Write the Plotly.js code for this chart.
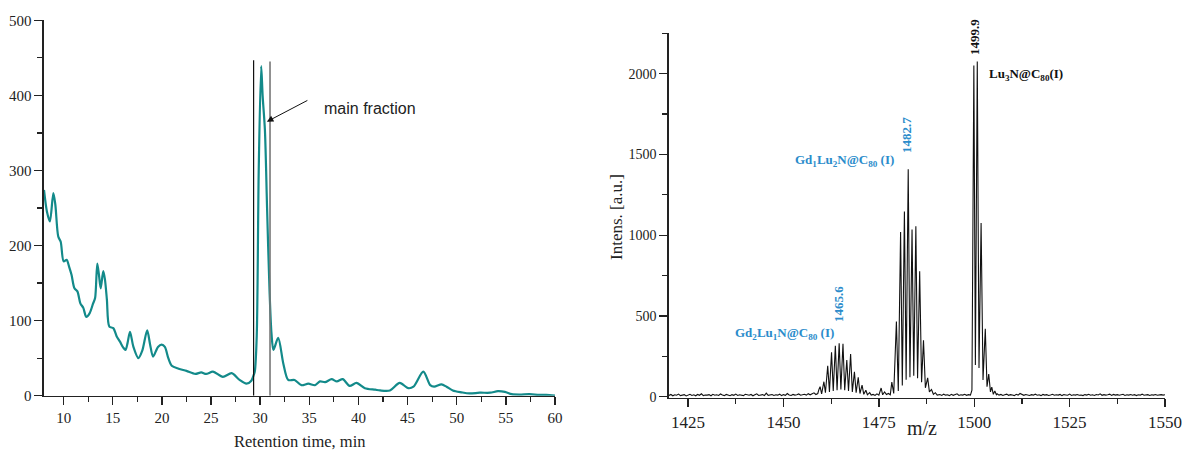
<!DOCTYPE html>
<html><head><meta charset="utf-8">
<script src="https://cdn.plot.ly/plotly-3.0.1.min.js"></script>
<style>html,body{margin:0;padding:0;background:#fff}#chart{width:1183px;height:452px}</style>
</head><body><div id="chart"></div>
<script>
// ---- Chromatogram (left) ----
const retTime = [8.0,8.3,8.6,8.95,9.15,9.45,9.7,10.0,10.3,10.55,10.8,11.1,11.4,11.7,12.0,12.3,12.65,13.0,13.2,13.42,13.6,13.77,14.03,14.2,14.4,14.65,15.05,15.4,15.73,16.07,16.3,16.5,16.75,17.1,17.6,18.0,18.5,18.8,19.1,19.6,19.97,20.3,20.65,21.0,21.7,22.5,23.4,24.0,24.5,25.2,26.2,27.1,27.9,28.6,29.1,29.35,29.45,29.65,29.85,30.1,30.25,30.48,30.7,30.95,31.15,31.35,31.83,32.35,32.85,33.5,34.2,34.9,35.57,36.08,36.6,37.27,37.8,38.4,39.1,39.8,40.65,41.7,42.2,43.2,44.2,45.06,45.6,46.6,47.3,47.7,48.45,48.96,49.6,50.5,51.3,52.35,53.4,54.2,54.9,55.6,56.4,57.4,58.4,59.1,60.0];
const retSignal = [274,245,232,270,255,212,205,179,181,172,161,143,139,123,117,105,110,123,130,176,160,143,166,155,128,92,90,79,72,64,61,70,85,65,50,60,87,68,52,65,68,65,50,40,36,33,29,31,29,32,25,30,21,16,20,28,32,80,300,439,399,354,250,140,83,61,77,43,21,21,14,16,14,19,18,22,19,22,13,17,10,8,7,7,17,10,12,32,14,12,15,12,7,4.5,3,4,4,6,5,2,1.5,2,1,1,0];
const fractionBounds = [29.33, 31.0];
const fractionTops = [446.7, 445];
const leftXTicks = [10,15,20,25,30,35,40,45,50,55,60];
const leftYTicks = [0,100,200,300,400,500];

// ---- Mass spectrum (right) ----
const msMz = [
1420,1420.5,1421,1421.5,1422,1422.5,1423,1423.5,1424,1424.5,
1425,1425.5,1426,1426.5,1427,1427.5,1428,1428.5,1429,1429.5,
1430,1430.5,1431,1431.5,1432,1432.5,1433,1433.5,1434,1434.5,
1435,1435.5,1436,1436.5,1437,1437.5,1438,1438.5,1439,1439.5,
1440,1440.5,1441,1441.5,1442,1442.5,1443,1443.5,1444,1444.5,
1445,1445.5,1446,1446.5,1447,1447.5,1448,1448.5,1449,1449.5,
1450,1450.5,1451,1451.5,1452,1452.5,1453,1453.5,1454,1454.5,
1455,1455.5,1456,1456.5,1457,1457.5,1458,1458.5,
1459,1459.3,1459.6,1460,1460.6,1461,1461.6,1462.05,1462.6,1463.05,1463.6,1464.05,1464.6,1465.05,1465.6,1466.05,1466.6,1467.05,1467.6,1468.05,1468.6,1469.05,1469.6,1470.05,1470.6,1471.05,1471.6,1472,1472.6,1473,
1473.5,1474,1474.5,1475,1475.6,1476,1476.5,1477,1477.5,1478,1478.4,1478.9,
1479.6,1480.1,1480.7,1481.15,1481.7,1482.15,1482.7,1483.15,1483.7,1484.15,1484.7,1485.15,1485.7,1486.2,1486.7,1487.2,1487.8,1488.25,1488.8,1489.3,1489.8,1490.3,
1491,1491.5,1492,1492.5,1493,1493.5,1494,1494.5,1495,1495.5,1496,1496.5,1497,1497.5,1498,1498.5,1499,1499.4,
1499.9,1500.3,1500.8,1501.25,1501.8,1502.3,1502.9,1503.35,1503.8,1504.25,1504.6,1505,1505.4,1505.8,
1506,1506.5,1507,1507.5,1508,1508.5,1509,1509.5,1510,1510.5,
1511,1511.5,1512,1512.5,1513,1513.5,1514,1514.5,1515,1515.5,
1516,1516.5,1517,1517.5,1518,1518.5,1519,1519.5,1520,1520.5,
1521,1521.5,1522,1522.5,1523,1523.5,1524,1524.5,1525,1525.5,
1526,1526.5,1527,1527.5,1528,1528.5,1529,1529.5,1530,1530.5,
1531,1531.5,1532,1532.5,1533,1533.5,1534,1534.5,1535,1535.5,
1536,1536.5,1537,1537.5,1538,1538.5,1539,1539.5,1540,1540.5,
1541,1541.5,1542,1542.5,1543,1543.5,1544,1544.5,1545,1545.5,
1546,1546.5,1547,1547.5,1548,1548.5,1549,1549.5,1550];
const msInt = [
8,14,6,12,9,16,7,11,13,5,
10,15,8,12,6,14,9,18,7,11,
10,13,6,15,9,12,8,17,11,7,
14,10,6,13,9,16,8,12,10,7,
15,11,9,14,6,12,18,8,10,13,
7,22,9,11,14,8,12,10,16,7,
13,9,20,11,8,14,10,12,17,9,
13,15,10,19,12,16,24,14,
20,45,62,18,93,25,192,30,275,35,316,40,331,45,328,40,227,35,265,30,155,25,120,20,72,15,40,12,25,10,
14,8,18,10,54,12,30,14,20,12,90,20,
465,35,1020,70,1146,105,1409,120,1035,130,1055,115,777,90,350,55,117,30,45,15,25,10,
14,8,16,10,12,7,15,9,13,18,8,12,10,15,9,13,10,40,
2050,196,2075,178,1076,103,420,62,140,30,60,15,35,12,
18,10,14,8,12,16,9,13,11,7,
15,10,20,12,9,14,11,8,13,10,
16,9,12,7,14,10,13,8,11,15,
9,12,10,14,7,13,11,9,16,8,
12,10,14,9,11,7,13,10,15,9,
12,8,14,11,18,9,13,10,12,16,
8,14,10,13,9,11,15,8,12,10,
14,9,13,7,12,10,16,9,11,13,
8,12,10,14,9,11,13,10,12];
const rightXTicks = [1425,1450,1475,1500,1525,1550];
const rightYTicks = [0,500,1000,1500,2000];

const W = 1183, H = 452;
const px = x => x / W, py = y => 1 - y / H;
const serif = 'Liberation Serif, Times New Roman, serif';
const axisCol = '#222';
const blue = '#2b8ccb';

const traces = [
  {x: retTime, y: retSignal, xaxis: 'x', yaxis: 'y', type: 'scatter', mode: 'lines',
   line: {color: '#138a8a', width: 2.2, shape: 'spline', smoothing: 0.8}, hoverinfo: 'skip'},
  {x: msMz, y: msInt, xaxis: 'x2', yaxis: 'y2', type: 'scatter', mode: 'lines',
   line: {color: '#111', width: 1.1}, hoverinfo: 'skip'}
];

const baseAxis = {
  showgrid: false, zeroline: false, showline: true, linecolor: axisCol, linewidth: 1.6,
  ticks: 'outside', ticklen: 8, tickwidth: 1.4, tickcolor: axisCol,
  tickfont: {family: serif, size: 15, color: '#222'}
};

const layout = {
  width: W, height: H, margin: {l: 0, r: 0, t: 0, b: 0},
  paper_bgcolor: '#fff', plot_bgcolor: '#fff', showlegend: false,
  xaxis: Object.assign({}, baseAxis, {domain: [px(44), px(555)], range: [8, 60], anchor: 'y',
    tickvals: leftXTicks, minor: {dtick: 2.5, tick0: 0, ticks: 'outside', ticklen: 5, tickcolor: axisCol, tickwidth: 1.2}}),
  yaxis: Object.assign({}, baseAxis, {domain: [py(395.7), py(20.3)], range: [0, 500], anchor: 'x',
    tickvals: leftYTicks, minor: {dtick: 50, tick0: 0, ticks: 'outside', ticklen: 5, tickcolor: axisCol, tickwidth: 1.2}}),
  xaxis2: Object.assign({}, baseAxis, {domain: [px(669), px(1165)], range: [1420, 1550], anchor: 'y2',
    tickvals: rightXTicks, tickfont: {family: serif, size: 17, color: '#222'},
    minor: {dtick: 12.5, tick0: 0, ticks: 'outside', ticklen: 5, tickcolor: axisCol, tickwidth: 1.2}}),
  yaxis2: Object.assign({}, baseAxis, {domain: [py(397.7), py(33.3)], range: [-6, 2250], anchor: 'x2',
    tickvals: rightYTicks, tickfont: {family: serif, size: 14, color: '#222'},
    minor: {dtick: 250, tick0: 0, ticks: 'outside', ticklen: 5, tickcolor: axisCol, tickwidth: 1.2}}),
  shapes: fractionBounds.map((b, i) => ({type: 'line', xref: 'x', yref: 'y', x0: b, x1: b, y0: 0, y1: fractionTops[i],
    line: {color: i === 0 ? '#111' : '#777', width: i === 0 ? 1.2 : 1.6}})),
  annotations: [
    {text: 'Retention time, min', xref: 'paper', yref: 'paper', x: px(300), y: py(441), xanchor: 'center', yanchor: 'middle',
     showarrow: false, font: {family: serif, size: 16.5, color: '#222'}},
    {text: 'Intens. [a.u.]', xref: 'paper', yref: 'paper', x: px(616), y: py(217), xanchor: 'center', yanchor: 'middle',
     textangle: -90, showarrow: false, font: {family: serif, size: 17, color: '#222'}},
    {text: 'm/z', xref: 'paper', yref: 'paper', x: px(922), y: py(428), xanchor: 'center', yanchor: 'middle',
     showarrow: false, font: {family: serif, size: 20, color: '#222'}},
    {text: 'main fraction', xref: 'paper', yref: 'paper', x: px(322), y: py(108), xanchor: 'left', yanchor: 'middle',
     showarrow: false, font: {family: 'Liberation Sans, Arial, sans-serif', size: 16, color: '#222'}},
    {text: '', xref: 'x', yref: 'y', x: 30.68, y: 365, ax: 42, ay: -22, showarrow: true,
     arrowhead: 2, arrowsize: 1.3, arrowwidth: 1, arrowcolor: '#111'},
    {text: '<b>1499.9</b>', xref: 'paper', yref: 'paper', x: px(975), y: py(37), xanchor: 'center', yanchor: 'middle',
     textangle: -90, showarrow: false, font: {family: serif, size: 13, color: '#111'}},
    {text: '<b>Lu<sub>3</sub>N@C<sub>80</sub>(I)</b>', xref: 'paper', yref: 'paper', x: px(987), y: py(74), xanchor: 'left', yanchor: 'middle',
     showarrow: false, font: {family: serif, size: 13, color: '#111'}},
    {text: '<b>1482.7</b>', xref: 'paper', yref: 'paper', x: px(907), y: py(135), xanchor: 'center', yanchor: 'middle',
     textangle: -90, showarrow: false, font: {family: serif, size: 13, color: blue}},
    {text: '<b>Gd<sub>1</sub>Lu<sub>2</sub>N@C<sub>80</sub> (I)</b>', xref: 'paper', yref: 'paper', x: px(793), y: py(161), xanchor: 'left', yanchor: 'middle',
     showarrow: false, font: {family: serif, size: 13, color: blue}},
    {text: '<b>1465.6</b>', xref: 'paper', yref: 'paper', x: px(838), y: py(304), xanchor: 'center', yanchor: 'middle',
     textangle: -90, showarrow: false, font: {family: serif, size: 13, color: blue}},
    {text: '<b>Gd<sub>2</sub>Lu<sub>1</sub>N@C<sub>80</sub> (I)</b>', xref: 'paper', yref: 'paper', x: px(733), y: py(333), xanchor: 'left', yanchor: 'middle',
     showarrow: false, font: {family: serif, size: 13, color: blue}}
  ]
};

Plotly.newPlot('chart', traces, layout, {staticPlot: true, displayModeBar: false});
</script>
</body></html>
